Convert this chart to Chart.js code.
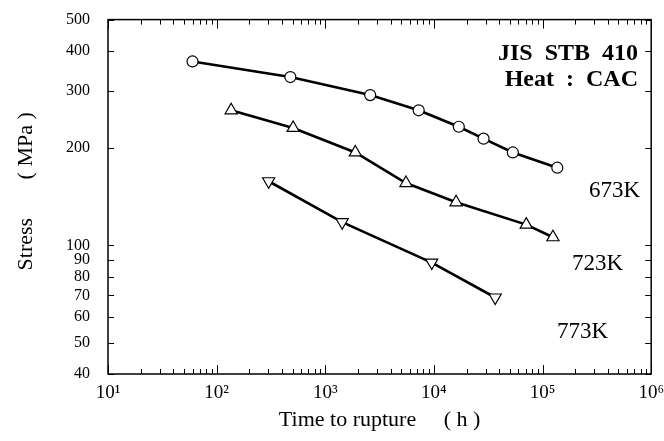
<!DOCTYPE html>
<html>
<head>
<meta charset="utf-8">
<script src="https://cdn.jsdelivr.net/npm/chart.js@4.4.1/dist/chart.umd.min.js"></script>
<style>
  body { margin: 0; background: #fff; }
  canvas { display: block; }
</style>
</head>
<body>
<canvas id="chart" width="664" height="441"></canvas>
<script>
// creep rupture data, JIS STB 410
const hours673 = [60, 477, 2590, 7240, 16950, 28640, 53300, 136700];
const stress673 = [371, 332, 292, 262, 233, 214, 194, 174];
const hours723 = [136, 506, 1890, 5530, 16000, 70800, 124700];
const stress723 = [262, 231, 194, 156, 136, 116, 106];
const hours773 = [301, 1430, 9550, 36650];
const stress773 = [158, 118, 88.5, 69];

const xTicks = [10, 100, 1000, 10000, 100000, 1000000];
const xTickLabels = ['10¹', '10²', '10³', '10⁴', '10⁵', '10⁶'];
const yTicks = [40, 50, 60, 70, 80, 90, 100, 200, 300, 400, 500];

const serif = '"Liberation Serif", "DejaVu Serif", serif';

function toPoints(xs, ys) {
  return xs.map((x, i) => ({ x: x, y: ys[i] }));
}

// box frame, inward ticks and text notes
const framePlugin = {
  id: 'frame',
  afterDraw(chart) {
    const ctx = chart.ctx;
    const a = chart.chartArea;
    const xs = chart.scales.x;
    const ys = chart.scales.y;
    ctx.save();
    ctx.strokeStyle = '#000';
    ctx.lineWidth = 1.5;
    ctx.strokeRect(a.left, a.top, a.right - a.left, a.bottom - a.top);

    ctx.lineWidth = 1;
    ctx.beginPath();
    for (let d = 1; d <= 6; d++) {
      for (let m = 1; m <= 9; m++) {
        const v = m * Math.pow(10, d);
        if (v > 1000000) break;
        const px = Math.round(xs.getPixelForValue(v)) + 0.5;
        const len = m === 1 ? 9 : 5;
        ctx.moveTo(px, a.bottom);
        ctx.lineTo(px, a.bottom - len);
        ctx.moveTo(px, a.top);
        ctx.lineTo(px, a.top + len);
      }
    }
    yTicks.forEach(v => {
      const py = Math.round(ys.getPixelForValue(v)) + 0.5;
      ctx.moveTo(a.left, py);
      ctx.lineTo(a.left + 6, py);
      ctx.moveTo(a.right, py);
      ctx.lineTo(a.right - 6, py);
    });
    ctx.stroke();

    ctx.fillStyle = '#000';
    ctx.textAlign = 'right';
    ctx.textBaseline = 'alphabetic';
    ctx.font = 'bold 24px ' + serif;
    ctx.fillText('JIS  STB  410', 638, 60);
    ctx.fillText('Heat  :  CAC', 638, 86);

    ctx.textAlign = 'left';
    ctx.font = '23px ' + serif;
    ctx.fillText('673K', 589, 197);
    ctx.fillText('723K', 572, 270);
    ctx.fillText('773K', 557, 338);
    ctx.restore();
  }
};

new Chart(document.getElementById('chart'), {
  type: 'scatter',
  data: {
    datasets: [
      {
        label: '673K',
        data: toPoints(hours673, stress673),
        showLine: true,
        borderColor: '#000',
        borderWidth: 2.6,
        pointStyle: 'circle',
        pointRadius: 5.5,
        pointBorderWidth: 1.2,
        pointBackgroundColor: '#fff',
        pointBorderColor: '#000'
      },
      {
        label: '723K',
        data: toPoints(hours723, stress723),
        showLine: true,
        borderColor: '#000',
        borderWidth: 2.6,
        pointStyle: 'triangle',
        pointRadius: 7,
        pointBorderWidth: 1.2,
        pointBackgroundColor: '#fff',
        pointBorderColor: '#000'
      },
      {
        label: '773K',
        data: toPoints(hours773, stress773),
        showLine: true,
        borderColor: '#000',
        borderWidth: 2.6,
        pointStyle: 'triangle',
        pointRotation: 180,
        pointRadius: 7,
        pointBorderWidth: 1.2,
        pointBackgroundColor: '#fff',
        pointBorderColor: '#000'
      }
    ]
  },
  options: {
    responsive: false,
    devicePixelRatio: 1,
    animation: false,
    layout: { padding: { top: 15, right: 9, left: 0, bottom: 0 } },
    plugins: {
      legend: { display: false },
      tooltip: { enabled: false }
    },
    scales: {
      x: {
        type: 'logarithmic',
        min: 10,
        max: 1000000,
        grid: { display: false },
        border: { display: false },
        afterBuildTicks: s => { s.ticks = xTicks.map(v => ({ value: v })); },
        afterFit: s => { s.height = 67; },
        ticks: {
          autoSkip: false,
          maxRotation: 0,
          padding: 0,
          color: '#000',
          font: { family: serif, size: 19 },
          callback: (v) => xTickLabels[xTicks.indexOf(v)]
        },
        title: {
          display: true,
          text: 'Time to rupture     ( h )',
          color: '#000',
          font: { family: serif, size: 22 },
          padding: { top: 0, bottom: 8 }
        }
      },
      y: {
        type: 'logarithmic',
        min: 40,
        max: 500,
        grid: { display: false },
        border: { display: false },
        afterBuildTicks: s => { s.ticks = yTicks.map(v => ({ value: v })); },
        afterFit: s => { s.width = 108; },
        ticks: {
          autoSkip: false,
          padding: 10,
          color: '#000',
          font: { family: serif, size: 16 },
          callback: (v) => String(v)
        },
        title: {
          display: true,
          text: '  Stress       ( MPa )',
          color: '#000',
          font: { family: serif, size: 22 },
          padding: { top: 13, bottom: 0 }
        }
      }
    }
  },
  plugins: [framePlugin]
});
</script>
</body>
</html>
